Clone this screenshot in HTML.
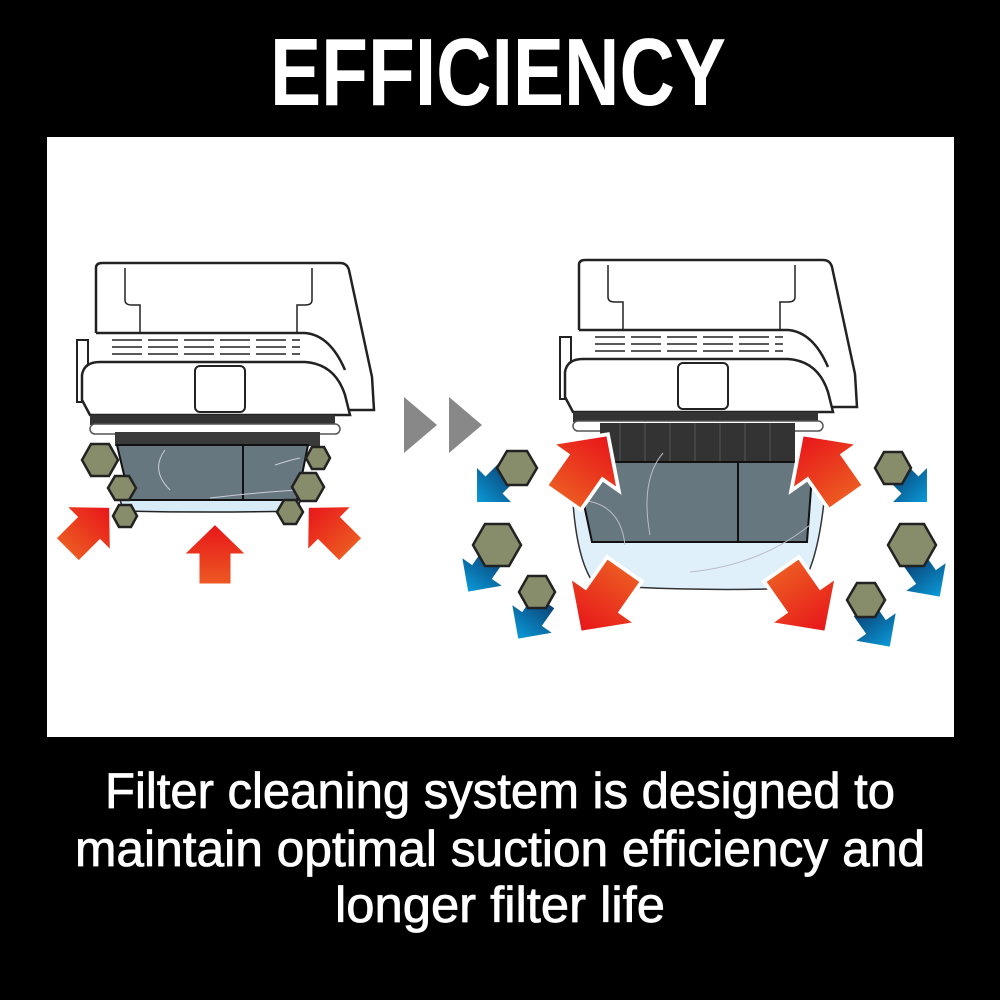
<!DOCTYPE html>
<html><head><meta charset="utf-8"><style>
html,body{margin:0;padding:0;background:#000;}
svg{display:block}
</style></head><body>
<svg width="1000" height="1000" viewBox="0 0 1000 1000" xmlns="http://www.w3.org/2000/svg">
<defs>
<linearGradient id="rg" x1="0" y1="0" x2="0" y2="1">
<stop offset="0" stop-color="#e8141a"/><stop offset="1" stop-color="#ec5a22"/></linearGradient>
<linearGradient id="bg" x1="0" y1="0" x2="0" y2="1">
<stop offset="0" stop-color="#0a9ad8"/><stop offset="1" stop-color="#0b4478"/></linearGradient>
<polygon id="ar" points="0,-32 -33,0 -17,0 -17,30 17,30 17,0 33,0" fill="url(#rg)" stroke="#fff" stroke-width="3"/>
<polygon id="ab" points="0,-20 -20,0 -10,0 -10,18 10,18 10,0 20,0" fill="url(#bg)"/>
<g id="top">
<path d="M96,333 L96,268 Q96,263 102,263 L340,263 Q347,263 349,270 L372,377 L374,410 L345,410" fill="#fff" stroke="#222" stroke-width="2.5"/>
<path d="M125,268 L125,300 Q125,305 132,305 L140,305 L140,333 M312,268 L312,300 Q312,305 305,305 L297,305 L297,333" fill="none" stroke="#222" stroke-width="1.5"/>
<path d="M96,333 L305,333 Q330,335 345,370" fill="#fff" stroke="#222" stroke-width="2.5"/>
<g stroke="#222" stroke-width="1.5">
<line x1="112" y1="340" x2="300" y2="340" stroke-dasharray="30,6"/>
<line x1="112" y1="347" x2="300" y2="347" stroke-dasharray="30,6"/>
<line x1="112" y1="354" x2="300" y2="354" stroke-dasharray="30,6"/>
</g>
<rect x="77" y="340" width="11" height="62" fill="#fff" stroke="#222" stroke-width="2"/>
<path d="M90,415 L82,400 L82,375 Q84,362 100,362 L305,362 Q335,364 345,395 L350,415 Z" fill="#fff" stroke="#222" stroke-width="2.5"/>
<rect x="195" y="366" width="50" height="46" rx="5" fill="#fff" stroke="#222" stroke-width="2"/>
<rect x="90" y="415" width="245" height="10" fill="#333"/>
<rect x="90" y="424" width="250" height="10" rx="5" fill="#fff" stroke="#555" stroke-width="1.5"/>
</g>
</defs>
<rect width="1000" height="1000" fill="#000"/>
<rect x="47" y="137" width="907" height="600" fill="#fff"/>
<text x="270" y="105" font-family="Liberation Sans, sans-serif" font-weight="bold" font-size="96" fill="#fff" textLength="456" lengthAdjust="spacingAndGlyphs">EFFICIENCY</text>
<g font-family="Liberation Sans, sans-serif" font-size="50" fill="#fff" stroke="#fff" stroke-width="0.8">
<text x="105" y="808" textLength="790" lengthAdjust="spacingAndGlyphs">Filter cleaning system is designed to</text>
<text x="75" y="866" textLength="850" lengthAdjust="spacingAndGlyphs">maintain optimal suction efficiency and</text>
<text x="335" y="922" textLength="330" lengthAdjust="spacingAndGlyphs">longer filter life</text>
</g>
<!-- left device -->
<use href="#top"/>
<rect x="115" y="432" width="205" height="14" fill="#3a3a3a"/>
<path d="M120,500 L300,500 L298,511 Q210,513 124,511 Z" fill="#d8ecf8" stroke="#222" stroke-width="1.5"/>
<polygon points="117,445 308,445 297,500 130,500" fill="#66777f" stroke="#111" stroke-width="2"/>
<line x1="243" y1="445" x2="243" y2="500" stroke="#111" stroke-width="2"/>
<path d="M165,450 Q150,470 170,490 M275,465 Q290,460 300,458 M210,498 Q260,492 300,490" fill="none" stroke="#ccd" stroke-width="1"/>
<!-- play arrows -->
<polygon points="404,397 404,453 437,425" fill="#888"/>
<polygon points="449,397 449,453 482,425" fill="#888"/>
<!-- right device -->
<g transform="translate(483,-3)"><use href="#top"/></g>
<path d="M572,485 Q575,560 595,585 Q700,592 800,588 Q820,560 826,480 Z" fill="#e0f0fb" stroke="#333" stroke-width="1.5"/>
<rect x="600" y="423" width="195" height="42" fill="#333"/>
<g stroke="#555" stroke-width="1"><line x1="620" y1="423" x2="620" y2="463"/><line x1="645" y1="423" x2="645" y2="463"/><line x1="670" y1="423" x2="670" y2="463"/><line x1="695" y1="423" x2="695" y2="463"/><line x1="720" y1="423" x2="720" y2="463"/><line x1="745" y1="423" x2="745" y2="463"/><line x1="770" y1="423" x2="770" y2="463"/></g>
<polygon points="575,462 813,462 807,542 592,542" fill="#66777f" stroke="#111" stroke-width="2"/>
<line x1="738" y1="462" x2="738" y2="542" stroke="#111" stroke-width="2"/>
<path d="M663,453 Q640,480 650,535 M690,572 Q760,565 810,525 M575,500 Q620,500 625,545" fill="none" stroke="#bbc" stroke-width="1"/>
<!-- left arrows -->
<use href="#ar" transform="translate(215,555)"/>
<use href="#ar" transform="translate(88,529) rotate(45) scale(1.0)"/>
<use href="#ar" transform="translate(330,529) rotate(-45) scale(1.0)"/>
<!-- right red arrows -->
<use href="#ar" transform="translate(585,467) rotate(35) scale(1.25)"/>
<use href="#ar" transform="translate(825,467) rotate(-35) scale(1.25)"/>
<use href="#ar" transform="translate(603,600) rotate(215) scale(1.25)"/>
<use href="#ar" transform="translate(803,600) rotate(145) scale(1.25)"/>
<!-- blue arrows -->
<use href="#ab" transform="translate(494,485) rotate(225) scale(1.2)"/>
<use href="#ab" transform="translate(482,572) rotate(215) scale(1.2)"/>
<use href="#ab" transform="translate(532,619) rotate(215) scale(1.2)"/>
<use href="#ab" transform="translate(910,485) rotate(135) scale(1.2)"/>
<use href="#ab" transform="translate(926,577) rotate(145) scale(1.2)"/>
<use href="#ab" transform="translate(876,627) rotate(145) scale(1.2)"/>
<!-- hexagons -->
<g fill="#878c6a" stroke="#222" stroke-width="2.5">
<polygon points="118,460 109,476 91,476 82,460 91,444 109,444"/>
<polygon points="136,488 129,500 115,500 108,488 115,476 129,476"/>
<polygon points="137,516 131,527 119,527 113,516 119,505 131,505"/>
<polygon points="330,458 324,469 312,469 306,458 312,447 324,447"/>
<polygon points="324,487 316,501 300,501 292,487 300,473 316,473"/>
<polygon points="303,512 296,524 284,524 277,512 284,500 296,500"/>
<polygon points="537,468 527,485 507,485 497,468 507,451 527,451"/>
<polygon points="521,545 509,566 485,566 473,545 485,524 509,524"/>
<polygon points="555,592 546,608 528,608 519,592 528,576 546,576"/>
<polygon points="911,468 902,484 884,484 875,468 884,452 902,452"/>
<polygon points="936,545 924,566 900,566 888,545 900,524 924,524"/>
<polygon points="885,600 875,617 857,617 847,600 857,583 875,583"/>
</g>
</svg>
</body></html>
